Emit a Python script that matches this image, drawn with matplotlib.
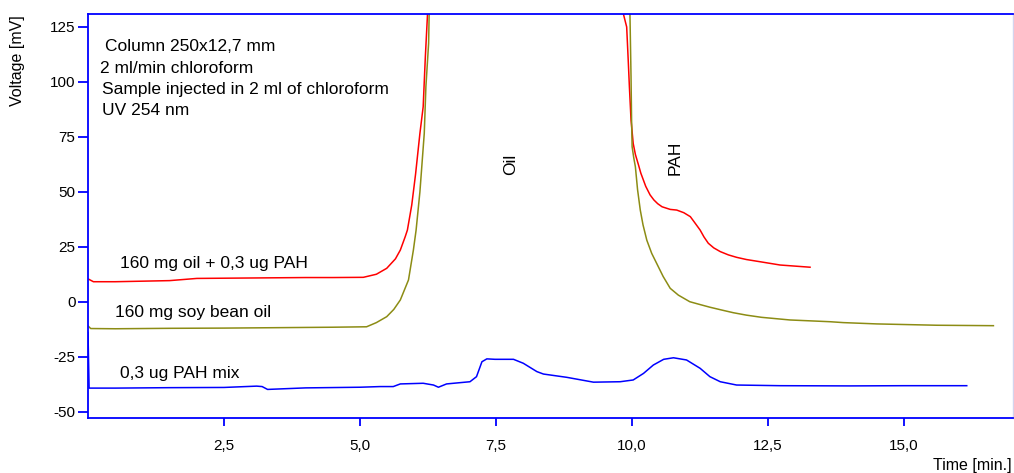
import matplotlib
matplotlib.use("Agg")
import matplotlib.pyplot as plt
import numpy as np

plt.rcParams['font.family'] = ['Liberation Sans', 'DejaVu Sans']

# 0,3 ug PAH mix (blue)
t_pah = [0.0, 0.02, 0.5, 1.5, 2.5, 3.1, 3.2, 3.3, 4.0, 5.0, 5.37, 5.61, 5.74, 6.16, 6.35, 6.44,
         6.59, 7.02, 7.14, 7.24, 7.33, 7.48, 7.82, 8.0, 8.25, 8.37, 8.8, 9.29, 9.78, 10.02,
         10.21, 10.39, 10.58, 10.76, 11.0, 11.25, 11.43, 11.62, 11.92, 12.72, 14.0, 15.0, 16.15]
v_pah = [-14.0, -39.3, -39.3, -39.1, -39.0, -38.4, -38.6, -39.9, -39.2, -38.9, -38.6, -38.6, -37.4, -37.1, -37.9, -38.9,
         -37.4, -36.4, -34.1, -27.3, -26.0, -26.2, -26.2, -28.0, -31.8, -32.9, -34.4, -36.6, -36.4, -35.6,
         -32.6, -28.8, -26.2, -25.5, -26.5, -30.3, -34.1, -36.4, -37.9, -38.2, -38.3, -38.2, -38.2]

# 160 mg oil + 0,3 ug PAH (red)
t_mix = [0.0, 0.1, 0.5, 1.5, 2.0, 3.0, 4.0, 4.5, 5.06, 5.3, 5.49, 5.65, 5.74, 5.83, 5.87, 5.95, 6.02,
         6.1, 6.16, 6.2, 6.24, 6.3, 9.8, 9.84, 9.9, 9.93, 9.95, 9.98, 10.02, 10.06, 10.12, 10.16, 10.25,
         10.33, 10.4, 10.47, 10.55, 10.7, 10.82, 10.95, 11.07, 11.15, 11.25, 11.32, 11.4, 11.5, 11.62,
         11.77, 11.92, 12.1, 12.35, 12.72, 13.27]
v_mix = [10.4, 9.1, 9.1, 9.6, 10.6, 10.8, 11.0, 11.0, 11.1, 12.5, 15.2, 19.5, 23.5, 29.6, 32.6, 44.0, 58.0,
         76.6, 88.7, 111.5, 130.9, 140.0, 140.0, 130.9, 125.0, 109.0, 97.8, 82.7, 72.0, 67.0, 62.0, 58.5, 52.5,
         48.6, 46.3, 44.6, 43.2, 42.0, 41.7, 40.5, 38.7, 36.0, 32.6, 29.5, 26.6, 24.5, 22.8,
         21.3, 20.2, 19.2, 18.2, 16.7, 15.7]

# 160 mg soy bean oil (olive)
t_oil = [0.0, 0.05, 0.5, 1.5, 2.5, 3.5, 4.5, 5.12, 5.3, 5.49, 5.62, 5.74, 5.89, 5.98, 6.03, 6.1,
         6.18, 6.21, 6.26, 6.27, 6.32, 9.93, 9.96, 9.98, 9.99, 10.0, 10.03, 10.06, 10.1, 10.15, 10.2,
         10.27, 10.36, 10.45, 10.57, 10.7, 10.85, 11.06, 11.25, 11.43, 11.65, 11.86, 12.1, 12.38, 12.9,
         13.64, 13.88, 14.5, 15.6, 16.64]
v_oil = [-11.0, -12.2, -12.3, -12.1, -12.0, -11.8, -11.6, -11.4, -9.5, -6.8, -3.5, 0.8, 9.9, 23.5, 32.6, 50.0,
         76.6, 97.8, 117.6, 131.0, 140.0, 140.0, 131.0, 102.4, 82.7, 70.5, 65.5, 61.4, 51.0, 41.7, 35.0,
         28.0, 22.0, 17.5, 11.5, 6.1, 3.0, 0.0, -1.3, -2.5, -3.8, -5.0, -6.1, -7.1, -8.3,
         -9.1, -9.5, -10.1, -10.7, -10.9]

xticks = [2.5, 5.0, 7.5, 10.0, 12.5, 15.0]
xticklabels = ['2,5', '5,0', '7,5', '10,0', '12,5', '15,0']
yticks = [-50, -25, 0, 25, 50, 75, 100, 125]

blue = '#0000ff'
fig = plt.figure(figsize=(10.14, 4.73), dpi=100)
ax = fig.add_axes([88/1014, 55/473, 925/1014, 404/473])

ax.plot(t_mix, v_mix, color='#ff0000', lw=1.1)
ax.plot(t_oil, v_oil, color='#8c8c14', lw=1.1)
ax.plot(t_pah, v_pah, color=blue, lw=1.1)

ax.set_xlim(0, 17.0)
ax.set_ylim(-52.9, 130.9)
ax.set_xticks(xticks)
ax.set_xticklabels(xticklabels)
ax.set_yticks(yticks)
ax.set_yticklabels([str(v) for v in yticks])

for s in ['left', 'bottom', 'top']:
    ax.spines[s].set_color(blue)
    ax.spines[s].set_linewidth(1.3)
ax.spines['right'].set_color('#d4d4ee')
ax.spines['right'].set_linewidth(1.0)

ax.tick_params(axis='x', direction='out', length=6, width=1.3, color=blue, pad=9, labelsize=11)
ax.tick_params(axis='y', direction='out', length=7, width=1.3, color=blue, pad=2, labelsize=11)

fs = 12.5
ax.text(0.31, 116.0, 'Column 250x12,7 mm', fontsize=fs, va='center')
ax.text(0.22, 105.9, '2 ml/min chloroform', fontsize=fs, va='center')
ax.text(0.25, 96.7, 'Sample injected in 2 ml of chloroform', fontsize=fs, va='center')
ax.text(0.25, 86.9, 'UV 254 nm', fontsize=fs, va='center')

ax.text(0.59, 17.6, '160 mg oil + 0,3 ug PAH', fontsize=fs, va='center')
ax.text(0.50, -5.1, '160 mg soy bean oil', fontsize=fs, va='center')
ax.text(0.58, -32.6, '0,3 ug PAH mix', fontsize=fs, va='center')

ax.text(7.76, 62.7, 'Oil', fontsize=fs, rotation=90, ha='center', va='center')
ax.text(10.79, 65.3, 'PAH', fontsize=fs, rotation=90, ha='center', va='center')

fig.text(18/1014, 1 - 15/473, 'Voltage [mV]', rotation=90, fontsize=11.5, ha='center', va='top')
fig.text(1012/1014, 1 - 465/473, 'Time [min.]', fontsize=11.5, ha='right', va='center')

fig.savefig('out.png', dpi=100)
